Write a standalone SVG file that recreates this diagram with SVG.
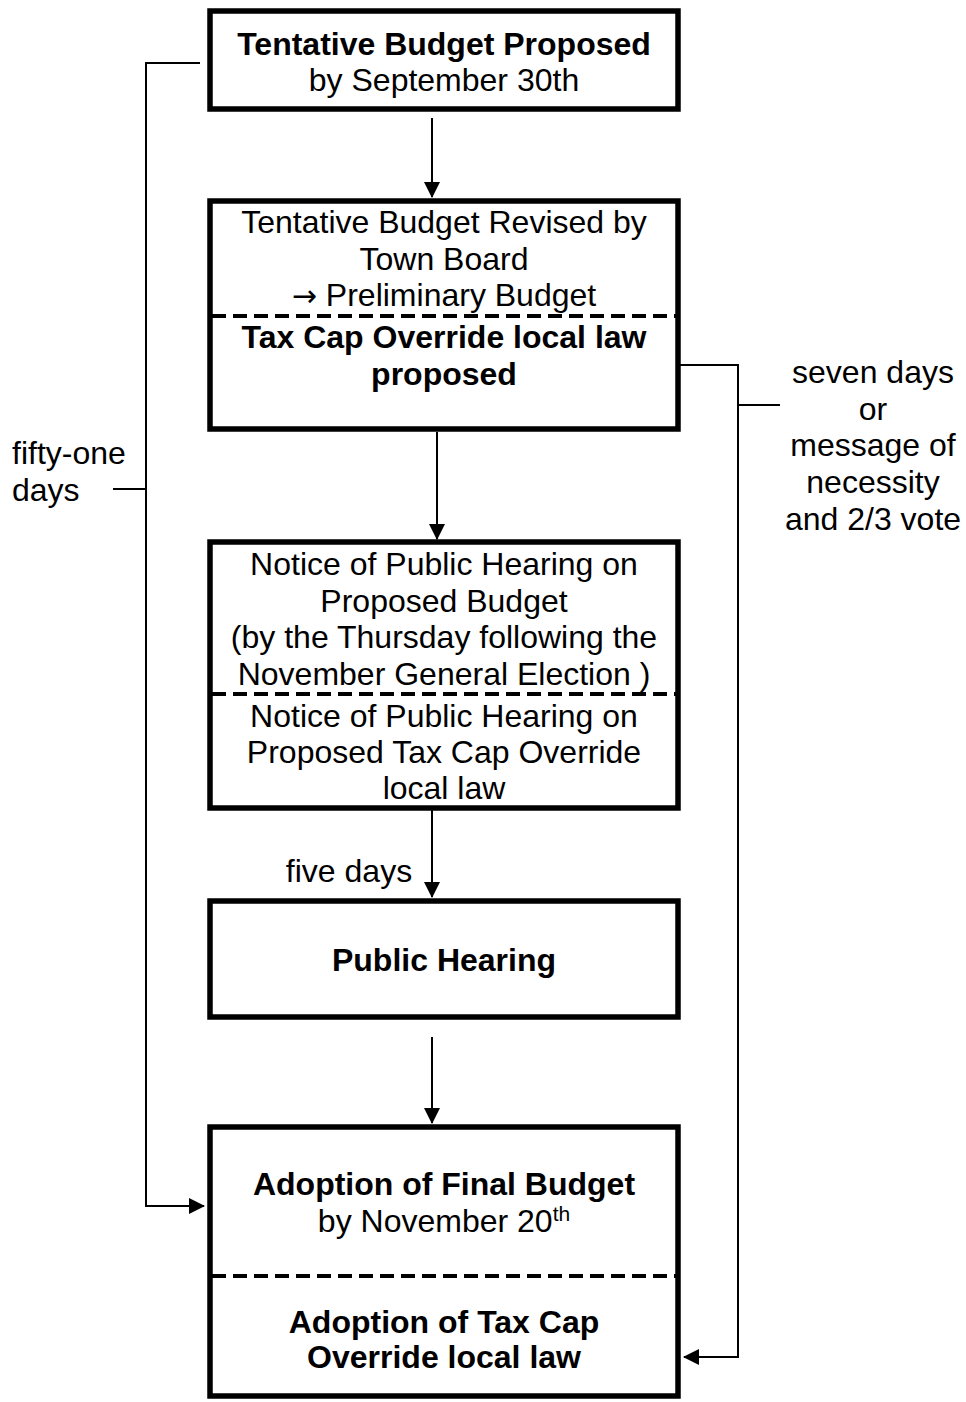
<svg xmlns="http://www.w3.org/2000/svg" width="966" height="1402" viewBox="0 0 966 1402">
<style>
.box{fill:#fff;stroke:#000;stroke-width:5.5}
.dash{stroke:#000;stroke-width:4;stroke-dasharray:14 7;fill:none}
.t{font-family:"Liberation Sans",Arial,sans-serif;font-size:32px;fill:#000;text-anchor:middle}
.b{font-weight:bold}
.l{text-anchor:start}
.c{fill:none;stroke:#000;stroke-width:2}
</style>
<defs>
<marker id="ah" markerWidth="16" markerHeight="16" refX="15" refY="8" orient="auto" markerUnits="userSpaceOnUse">
<path d="M0,0 L16,8 L0,16 Z" fill="#000"/>
</marker>
</defs>
<rect x="0" y="0" width="966" height="1402" fill="#fff"/>
<g id="connectors">
<line class="c" x1="432" y1="118" x2="432" y2="197" marker-end="url(#ah)"/>
<line class="c" x1="437" y1="432" x2="437" y2="539" marker-end="url(#ah)"/>
<line class="c" x1="432" y1="810" x2="432" y2="897" marker-end="url(#ah)"/>
<line class="c" x1="432" y1="1037" x2="432" y2="1123" marker-end="url(#ah)"/>
<polyline class="c" points="200,63 146,63 146,1206 204,1206" marker-end="url(#ah)"/>
<line class="c" x1="113" y1="489" x2="146" y2="489"/>
<polyline class="c" points="680,365 738,365 738,1357 684,1357" marker-end="url(#ah)"/>
<line class="c" x1="738" y1="405" x2="780" y2="405"/>
<text class="t" x="349" y="882">five days</text>
<text class="t l" x="12" y="464">fifty-one</text>
<text class="t l" x="12" y="501">days</text>
<text class="t" x="873" y="383">seven days</text>
<text class="t" x="873" y="420">or</text>
<text class="t" x="873" y="456">message of</text>
<text class="t" x="873" y="493">necessity</text>
<text class="t" x="873" y="530">and 2/3 vote</text>
</g>
<g id="n1">
<rect class="box" x="210" y="11" width="468" height="98"/>
<text class="t b" x="444" y="55">Tentative Budget Proposed</text>
<text class="t" x="444" y="91">by September 30th</text>
</g>
<g id="n2">
<rect class="box" x="210" y="201" width="468" height="228"/>
<text class="t" x="444" y="233">Tentative Budget Revised by</text>
<text class="t" x="444" y="270">Town Board</text>
<text class="t" x="444" y="306"><tspan font-family="'DejaVu Sans',sans-serif" font-size="30">→</tspan> Preliminary Budget</text>
<line class="dash" x1="212" y1="316" x2="676" y2="316"/>
<text class="t b" x="444" y="348">Tax Cap Override local law</text>
<text class="t b" x="444" y="385">proposed</text>
</g>
<g id="n3">
<rect class="box" x="210" y="542" width="468" height="266"/>
<text class="t" x="444" y="575">Notice of Public Hearing on</text>
<text class="t" x="444" y="612">Proposed Budget</text>
<text class="t" x="444" y="648">(by the Thursday following the</text>
<text class="t" x="444" y="685">November General Election )</text>
<line class="dash" x1="212" y1="694" x2="676" y2="694"/>
<text class="t" x="444" y="727">Notice of Public Hearing on</text>
<text class="t" x="444" y="763">Proposed Tax Cap Override</text>
<text class="t" x="444" y="799">local law</text>
</g>
<g id="n4">
<rect class="box" x="210" y="901" width="468" height="116"/>
<text class="t b" x="444" y="971">Public Hearing</text>
</g>
<g id="n5">
<rect class="box" x="210" y="1127" width="468" height="269"/>
<text class="t b" x="444" y="1195">Adoption of Final Budget</text>
<text class="t" x="444" y="1232">by November 20<tspan font-size="21" dy="-11">th</tspan></text>
<line class="dash" x1="212" y1="1276" x2="676" y2="1276"/>
<text class="t b" x="444" y="1333">Adoption of Tax Cap</text>
<text class="t b" x="444" y="1368">Override local law</text>
</g>
</svg>
